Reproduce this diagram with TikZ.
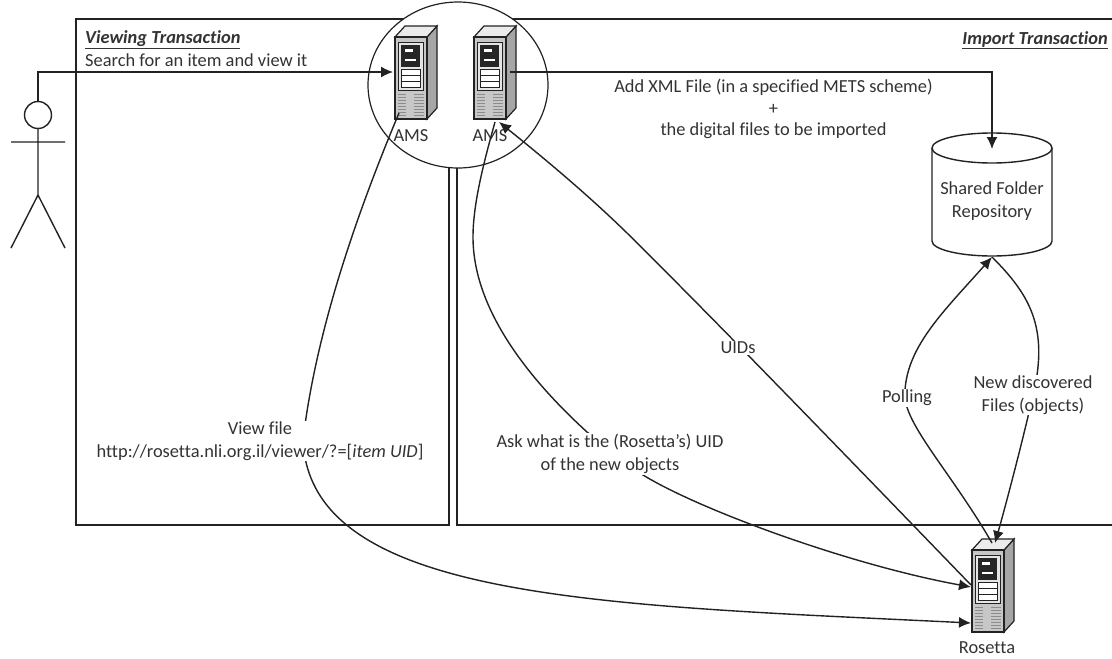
\documentclass[tikz,border=0pt]{standalone}
\usepackage{fontspec}
\setmainfont[Ligatures=NoCommon]{Carlito}
\usetikzlibrary{arrows.meta}
\definecolor{txt}{HTML}{333333}
\definecolor{ln}{HTML}{222222}
\tikzset{
  x=1pt,y=-1pt,
  conn/.style={draw=ln,line width=1.4pt},
  arr/.style={conn,-{Latex[length=12pt,width=11pt]}},
  lbl/.style={text=txt,font=\fontsize{18.4}{22.5}\selectfont,align=center,inner sep=0pt},
  clearlbl/.style={lbl,fill=white,inner sep=1pt},
  pics/server/.style={code={
    \fill[fill=white!65!black,draw=ln,line width=1.2pt] (21,-41)--(31,-52)--(31,30)--(21,41)--cycle;
    \fill[fill=white!92!black,draw=ln,line width=1.2pt] (-11,-41)--(-1,-52)--(31,-52)--(21,-41)--cycle;
    \fill[fill=white!78!black,draw=ln,line width=1.6pt] (-11,-41) rectangle (21,41);
    \fill[white!90!black,draw=ln,line width=.9pt] (-8,-36) rectangle (17,12);
    \fill[black!85] (-5,-33) rectangle (14,-11);
    \fill[white] (-1,-29) rectangle (7,-26);
    \fill[white] (-1,-19) rectangle (10,-17.5);
    \fill[white,draw=ln,line width=1pt] (-5,-9) rectangle (14,-3);
    \fill[white,draw=ln,line width=1pt] (-5,-3) rectangle (14,3);
    \fill[white,draw=ln,line width=1pt] (-5,3) rectangle (14,9);
    \foreach \yy in {16,19,22,25,28,31,34,37} {
      \draw[white!55!black,line width=.6pt] (-8,\yy)--(0,\yy) (8,\yy)--(18,\yy);
    }
  }}
}
\begin{document}
\begin{tikzpicture}
\useasboundingbox (0,0) rectangle (1112,659);
\fill[white] (0,0) rectangle (1112,659);
% frames
\draw[conn] (76,525) -- (76,19) -- (449,19) -- (449,525) -- cycle;
\draw[conn] (1112,19) -- (457,19) -- (457,525) -- (1112,525);
% circle
\path[fill=white,draw=ln,line width=1.2pt] (458,85) ellipse [x radius=90,y radius=83];
% labels
\node[lbl,anchor=west] (viewtitle) at (85,40) {\textit{\textbf{\underline{Viewing Transaction}}}};
\node[lbl,anchor=west] (search) at (85,60) {Search for an item and view it};
\node[lbl,anchor=east] (imptitle) at (1108,40) {\textit{\textbf{\underline{Import Transaction}}}};
% servers
\coordinate (s1) at (406,78);
\coordinate (s2) at (485,78);
\coordinate (s3) at (983,591);
\pic at (s1) {server};
\pic at (s2) {server};
\pic at (s3) {server};
\node[lbl] (ams1) at (411,136) {AMS};
\node[lbl] (ams2) at (490,136) {AMS};
\node[lbl] (ros) at (987,648) {Rosetta};
% cylinder
\path[fill=white,draw=ln,line width=1.4pt] (932,148) -- (932,241) arc[start angle=180,end angle=0,x radius=60,y radius=15] -- (1052,148);
\path[draw=ln,line width=1.4pt] (932,148) arc[start angle=180,end angle=-180,x radius=60,y radius=15];
\node[lbl] (repo) at (992,201) {Shared Folder\\Repository};
% actor
\node[circle,draw=ln,line width=1.4pt,minimum size=27pt,inner sep=0pt] (head) at (38,115) {};
\coordinate (hl) at (11,142); \coordinate (hr) at (65,142);
\coordinate (hip) at (38,195); \coordinate (fl) at (11,248); \coordinate (fr) at (65,248);
\draw[conn] (head.south) -- (hip) (hl) -- (hr) (fl) -- (hip) -- (fr);
% connectors
\coordinate (a1in) at (393,72);
\coordinate (a2out) at (510,72);
\draw[arr] (head.north) -- (38,72) -- (a1in);
\draw[arr] (a2out) -- (992,72) -- (992,149);
\draw[arr] (399,113) .. controls (350,230) and (315,340) .. (303,440) .. controls (310,600) and (600,605) .. (971,623);
\draw[arr] (495,122) .. controls (483,165) and (473,205) .. (473,237) .. controls (473,310) and (530,380) .. (587,432) -- (643,475) .. controls (700,510) and (850,565) .. (971,587);
\draw[arr] (971,585) .. controls (850,460) and (720,325) .. (627,233) .. controls (585,192) and (540,155) .. (499,122);
\draw[arr] (992,543) .. controls (950,470) and (900,420) .. (905,390) .. controls (908,345) and (945,310) .. (992,257);
\draw[arr] (992,257) .. controls (1025,290) and (1045,320) .. (1037,375) .. controls (1033,400) and (1010,490) .. (995,543);
% connector labels
\node[clearlbl] (xmlA) at (773.5,87) {Add XML File (in a specified METS scheme)};
\node[lbl] (xmlB) at (773.5,109) {+};
\node[lbl] (xmlC) at (773.5,131) {the digital files to be imported};
\node[clearlbl] (uids) at (738,348) {UIDs};
\node[clearlbl] (ask) at (610,454) {Ask what is the (Rosetta’s) UID\\of the new objects};
\node[clearlbl] (view) at (260,441) {View file\\http://rosetta.nli.org.il/viewer/?=[\textit{item UID}]};
\node[clearlbl] (poll) at (907,398) {Polling};
\node[clearlbl] (newf) at (1033,395) {New discovered\\Files (objects)};
\end{tikzpicture}
\end{document}
